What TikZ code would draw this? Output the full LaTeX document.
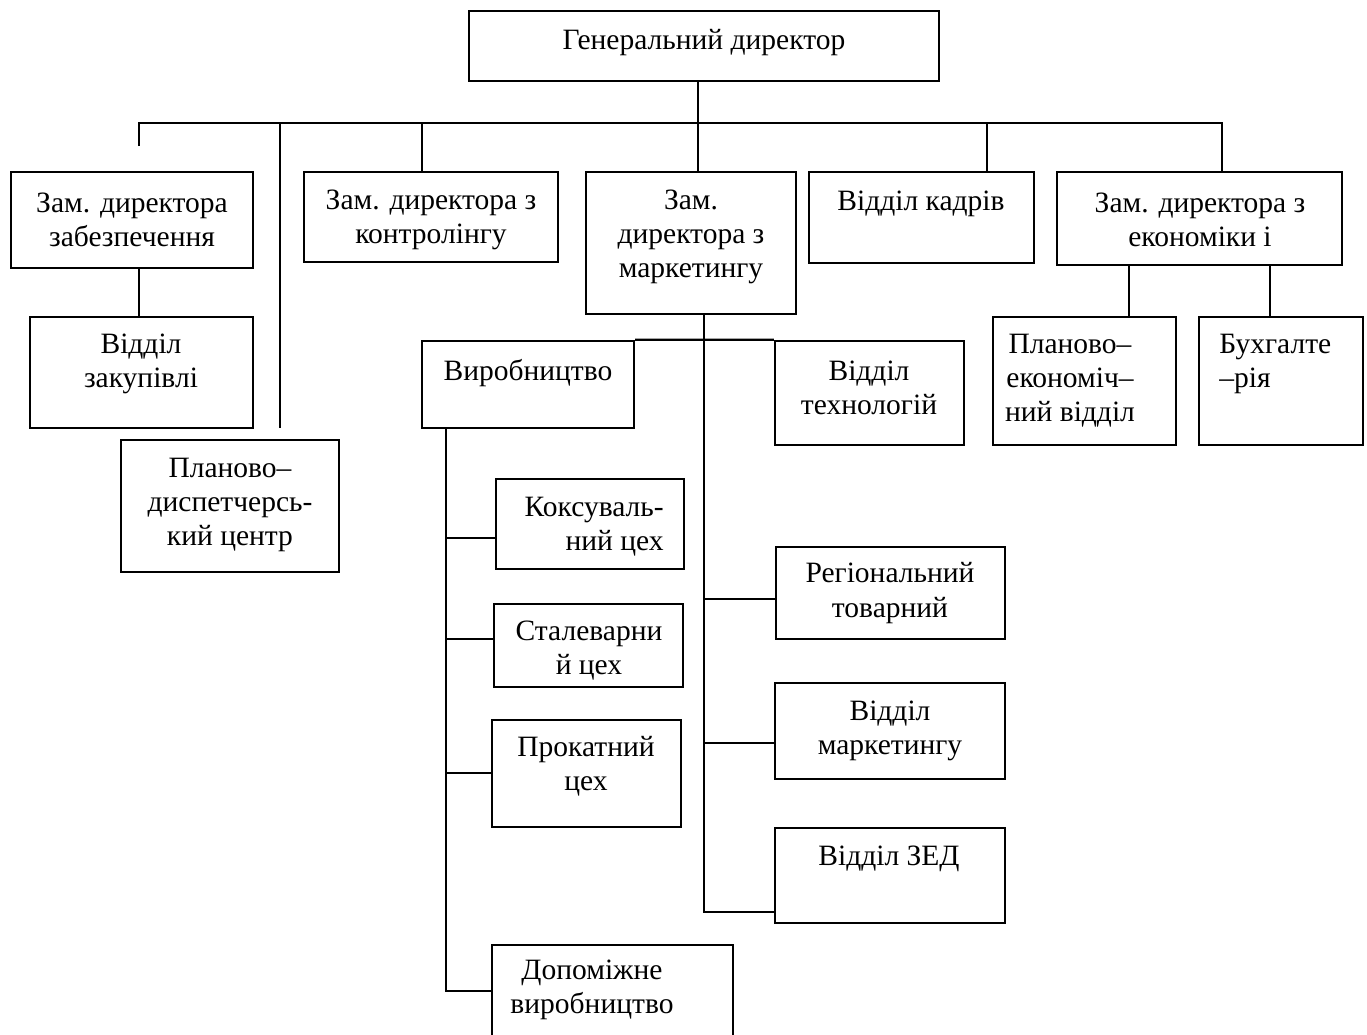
\documentclass[tikz,border=0pt]{standalone}
\usepackage{fontspec}
\setmainfont{Liberation Serif}
\usetikzlibrary{fit}
\begin{document}
\begin{tikzpicture}[x=0.02cm, y=-0.02cm,
  box/.style={draw, line width=1.4pt, inner sep=0pt},
  ln/.style={line width=1.3pt},
  txt/.style={font=\fontsize{16.8}{19.4}\selectfont, align=center, inner sep=0pt}]
\clip (0,0) rectangle (1367,1035);
\fill[white] (0,0) rectangle (1367,1035);
% boxes
\node[box, fit={(469,11) (939,81)}] (gen) {};
\node[box, fit={(11,172) (253,268)}] (zab) {};
\node[box, fit={(304,172) (558,262)}] (kontr) {};
\node[box, fit={(586,172) (796,314)}] (mark) {};
\node[box, fit={(809,172) (1034,263)}] (kadr) {};
\node[box, fit={(1057,172) (1342,265)}] (econ) {};
\node[box, fit={(30,317) (253,428)}] (zak) {};
\node[box, fit={(121,440) (339,572)}] (dysp) {};
\node[box, fit={(422,341) (634,428)}] (vyr) {};
\node[box, fit={(775,341) (964,445)}] (tech) {};
\node[box, fit={(993,317) (1176,445)}] (planek) {};
\node[box, fit={(1199,317) (1363,445)}] (buh) {};
\node[box, fit={(496,479) (684,569)}] (koks) {};
\node[box, fit={(494,604) (683,687)}] (stal) {};
\node[box, fit={(492,720) (681,827)}] (prok) {};
\node[box, fit={(492,945) (733,1060)}] (dop) {};
\node[box, fit={(776,547) (1005,639)}] (reg) {};
\node[box, fit={(775,683) (1005,779)}] (vmark) {};
\node[box, fit={(775,828) (1005,923)}] (zed) {};
% texts
\node[txt] (tgen) at (704,43) {Генеральний директор};
\node[txt] (tzab) at (132,220) {Зам. директора\\забезпечення};
\node[txt] (tkontr) at (431,220) {Зам. директора з\\контролінгу};
\node[txt] (tmark) at (691,237) {Зам.\\директора з\\маркетингу};
\node[txt] (tkadr) at (921,204) {Відділ кадрів};
\node[txt] (tecon) at (1200,220) {Зам. директора з\\економіки і};
\node[txt] (tzak) at (141,364) {Відділ\\закупівлі};
\node[txt] (tvyr) at (528,373) {Виробництво};
\node[txt] (ttech) at (869,388) {Відділ\\технологій};
\node[txt] (tplanek) at (1070,381) {Планово–\\економіч–\\ний відділ};
\node[txt, align=left, anchor=west] (tbuh) at (1219,364) {Бухгалте\\–рія};
\node[txt] (tdysp) at (230,505) {Планово–\\диспетчерсь-\\кий центр};
\node[txt, align=right, anchor=east] (tkoks) at (664,527) {Коксуваль-\\ний цех};
\node[txt] (tstal) at (589,651) {Сталеварни\\й цех};
\node[txt] (tprok) at (586,766) {Прокатний\\цех};
\node[txt] (tdop) at (592,990) {Допоміжне\\виробництво};
\node[txt] (treg) at (890,593) {Регіональний\\товарний};
\node[txt] (tvmark) at (890,731) {Відділ\\маркетингу};
\node[txt] (tzed) at (889,859) {Відділ ЗЕД};
% connectors
\coordinate (bL) at (139,123);
\coordinate (bR) at (1222,123);
\coordinate (stub) at (139,146);
\coordinate (g1) at (698,123);
\coordinate (b2) at (280,123);
\coordinate (b2e) at (280,428);
\coordinate (b3) at (422,123);
\coordinate (b5) at (987,123);
\draw[ln] (stub) -- (bL) -- (bR) -- (econ.north -| bR);
\draw[ln] (gen.south -| g1) -- (g1) -- (mark.north -| g1);
\draw[ln] (b2) -- (b2e);
\draw[ln] (b3) -- (kontr.north -| b3);
\draw[ln] (b5) -- (kadr.north -| b5);
\coordinate (z1) at (139,300);
\draw[ln] (zab.south -| z1) -- (zak.north -| z1);
\coordinate (e1) at (1129,300);
\coordinate (e2) at (1270,300);
\draw[ln] (econ.south -| e1) -- (planek.north -| e1);
\draw[ln] (econ.south -| e2) -- (buh.north -| e2);
% marketing branch
\coordinate (mE) at (704,912);
\coordinate (mr) at (704,599);
\coordinate (mv) at (704,743);
\draw[ln] (mark.south -| mE) -- (mE) -- (zed.west |- mE);
\draw[ln] (vyr.north east) -- (tech.north west);
\draw[ln] (mr) -- (reg.west |- mr);
\draw[ln] (mv) -- (vmark.west |- mv);
% production branch
\coordinate (vE) at (446,991);
\coordinate (vk) at (446,538);
\coordinate (vs) at (446,639);
\coordinate (vp) at (446,773);
\draw[ln] (vyr.south -| vE) -- (vE) -- (dop.west |- vE);
\draw[ln] (vk) -- (koks.west |- vk);
\draw[ln] (vs) -- (stal.west |- vs);
\draw[ln] (vp) -- (prok.west |- vp);
\end{tikzpicture}
\end{document}
